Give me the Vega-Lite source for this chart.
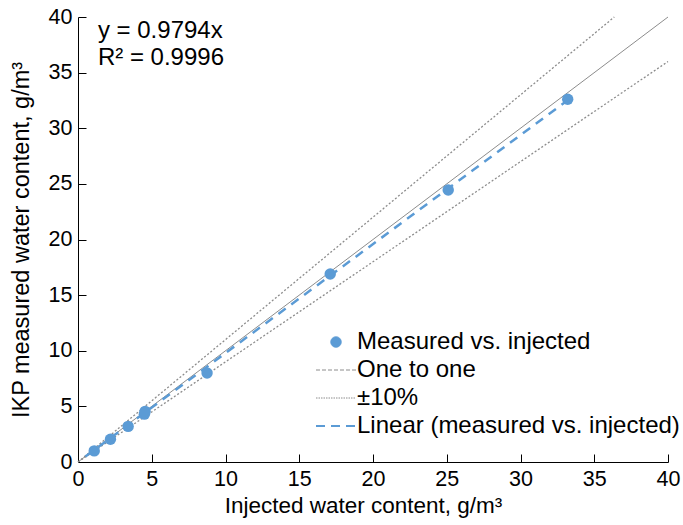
{
  "$schema": "https://vega.github.io/schema/vega-lite/v6.json",
  "width": 590,
  "height": 445,
  "autosize": {"type": "none"},
  "padding": {"left": 78, "top": 17, "right": 15, "bottom": 63},
  "config": {
    "font": "Liberation Sans",
    "view": {"stroke": null},
    "axis": {
      "grid": false,
      "domainColor": "#000000",
      "domainWidth": 1,
      "tickColor": "#000000",
      "tickSize": -8,
      "labelFontSize": 21.5,
      "labelColor": "#000000",
      "labelPadding": 14,
      "labelFlush": false,
      "titleFontSize": 21.5,
      "titleFontWeight": "normal",
      "titleColor": "#000000"
    }
  },
  "datasets": {
    "pts": [
      {"series": "Measured vs. injected", "x": 1.1, "y": 1.0},
      {"series": "Measured vs. injected", "x": 2.2, "y": 2.05},
      {"series": "Measured vs. injected", "x": 3.4, "y": 3.2},
      {"series": "Measured vs. injected", "x": 4.5, "y": 4.3},
      {"series": "Measured vs. injected", "x": 4.55, "y": 4.55},
      {"series": "Measured vs. injected", "x": 8.75, "y": 8.0},
      {"series": "Measured vs. injected", "x": 17.1, "y": 16.9},
      {"series": "Measured vs. injected", "x": 25.1, "y": 24.45},
      {"series": "Measured vs. injected", "x": 33.2, "y": 32.6}
    ],
    "one": [
      {"series": "One to one", "x": 0, "y": 0},
      {"series": "One to one", "x": 40, "y": 40}
    ],
    "ten": [
      {"series": "±10%", "line": "upper", "x": 0, "y": 0},
      {"series": "±10%", "line": "upper", "x": 36.36, "y": 40},
      {"series": "±10%", "line": "lower", "x": 0, "y": 0},
      {"series": "±10%", "line": "lower", "x": 40, "y": 36}
    ],
    "fit": [
      {"series": "Linear (measured vs. injected)", "x": 0.5, "y": 0.49},
      {"series": "Linear (measured vs. injected)", "x": 33.2, "y": 32.52}
    ],
    "notes": [
      {"x": 1.35, "y": 38.7, "text": "y = 0.9794x"},
      {"x": 1.35, "y": 36.3, "text": "R² = 0.9996"}
    ]
  },
  "encoding": {
    "x": {"field": "x", "type": "quantitative", "scale": {"domain": [0, 40], "nice": false}, "axis": {"title": "Injected water content, g/m³", "titleFontSize": 22.5, "titleX": 285, "values": [0,5,10,15,20,25,30,35,40], "titlePadding": 5}},
    "y": {"field": "y", "type": "quantitative", "scale": {"domain": [0, 40], "nice": false}, "axis": {"title": "IKP measured water content, g/m³", "titleFontSize": 23.5, "values": [0,5,10,15,20,25,30,35,40], "titlePadding": 15}}
  },
  "layer": [
    {
      "data": {"name": "ten"},
      "mark": {"type": "line", "strokeWidth": 1.3, "strokeDash": [2, 2]},
      "encoding": {
        "detail": {"field": "line"},
        "color": {"field": "series", "type": "nominal", "scale": {"domain": ["Measured vs. injected", "One to one", "±10%", "Linear (measured vs. injected)"], "range": ["#5b9bd5", "#8c8c8c", "#8c8c8c", "#5b9bd5"]}, "legend": {
          "orient": "none", "legendX": 246, "legendY": 313, "title": null,
          "labelFontSize": 24, "labelColor": "#000000", "labelLimit": 400, "labelOffset": 9,
          "symbolSize": 1600, "rowPadding": 4, "symbolStrokeWidth": 1.5,
          "encode": {"symbols": {"update": {
            "shape": {"signal": "datum.value === 'Measured vs. injected' ? 'circle' : 'stroke'"},
            "size": {"signal": "datum.value === 'Measured vs. injected' ? 110 : 1600"},
            "fill": {"signal": "datum.value === 'Measured vs. injected' ? '#5b9bd5' : 'transparent'"},
            "stroke": {"signal": "datum.value === 'Measured vs. injected' ? '#5b9bd5' : (datum.value === 'Linear (measured vs. injected)' ? '#5b9bd5' : '#000000')"},
            "strokeWidth": {"signal": "datum.value === 'Linear (measured vs. injected)' ? 2 : 1"},
            "strokeDash": {"signal": "datum.value === 'One to one' ? [4, 2] : (datum.value === '±10%' ? [1.5, 1] : (datum.value === 'Linear (measured vs. injected)' ? [9, 6] : [1, 0]))"}
          }}}
        }}
      }
    },
    {
      "data": {"name": "one"},
      "mark": {"type": "line", "strokeWidth": 1},
      "encoding": {"color": {"field": "series", "type": "nominal"}}
    },
    {
      "data": {"name": "fit"},
      "mark": {"type": "line", "strokeWidth": 2.5, "strokeDash": [9, 7]},
      "encoding": {"color": {"field": "series", "type": "nominal"}}
    },
    {
      "data": {"name": "pts"},
      "mark": {"type": "point", "filled": true, "opacity": 1, "size": 130},
      "encoding": {"color": {"field": "series", "type": "nominal"}}
    },
    {
      "data": {"name": "notes"},
      "mark": {"type": "text", "align": "left", "baseline": "middle", "fontSize": 24, "color": "#000000"},
      "encoding": {"text": {"field": "text"}}
    }
  ]
}
